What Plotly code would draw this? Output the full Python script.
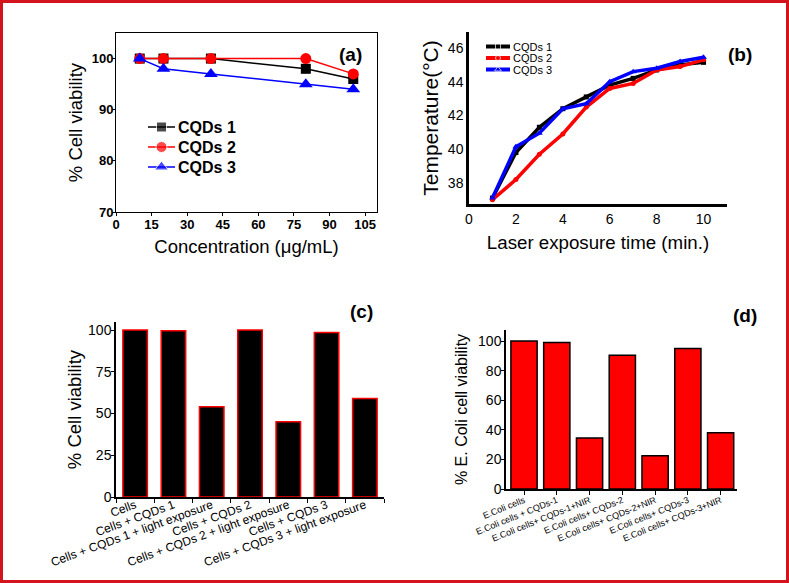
import plotly.graph_objects as go

# ---------------- data ----------------
conc = [10, 20, 40, 80, 100]
via_cqd1 = [100, 100, 100, 98, 96]
via_cqd2 = [100, 100, 100, 100, 97]
via_cqd3 = [100, 98, 97, 95, 94]

time_min = [1, 2, 3, 4, 5, 6, 7, 8, 9, 10]
temp_cqd1 = [37.1, 39.8, 41.3, 42.4, 43.1, 43.8, 44.2, 44.7, 45.0, 45.15]
temp_cqd2 = [37.0, 38.2, 39.7, 40.9, 42.5, 43.6, 43.9, 44.7, 44.9, 45.3]
temp_cqd3 = [37.1, 40.15, 40.95, 42.4, 42.7, 44.0, 44.6, 44.8, 45.2, 45.45]

cells_cats = ["Cells", "Cells + CQDs 1", "Cells + CQDs 1 + light exposure",
              "Cells + CQDs 2", "Cells + CQDs 2 + light exposure",
              "Cells + CQDs 3", "Cells + CQDs 3 + light exposure"]
cells_via = [100, 99.5, 54, 100, 45, 98.5, 59]

ecoli_cats = ["E.Coli cells", "E.Coli cells + CQDs-1", "E.Coli cells+ CQDs-1+NIR",
              "E.Coli cells+ CQDs-2", "E.Coli cells+ CQDs-2+NIR",
              "E.Coli cells+ CQDs-3", "E.Coli cells+ CQDs-3+NIR"]
ecoli_via = [100, 99, 34.5, 90.5, 22.5, 95, 38]

series_names = ["CQDs 1", "CQDs 2", "CQDs 3"]
series_colors = ["black", "#ff0000", "#0000ff"]
series_symbols = ["square", "circle", "triangle-up"]

W, H = 789, 583
FONT = "Liberation Sans, Arial, sans-serif"


def px_x(a, b):
    return [a / W, b / W]


def px_y(top, bottom):
    return [1 - bottom / H, 1 - top / H]


fig = go.Figure()

# ---------- panel (a) ----------
a_sizes = [10, 11, 12]
for name, ys, col, sym, sz in zip(series_names, [via_cqd1, via_cqd2, via_cqd3],
                                  series_colors, series_symbols, a_sizes):
    fig.add_trace(go.Scatter(x=conc, y=ys, name=name, mode="lines+markers",
                             line=dict(color=col, width=1.5),
                             marker=dict(symbol=sym, size=sz, color=col),
                             xaxis="x", yaxis="y", showlegend=False))

# ---------- panel (b) ----------
b_sizes = [5, 5, 6]
for name, ys, col, sym, sz in zip(series_names, [temp_cqd1, temp_cqd2, temp_cqd3],
                                  series_colors, series_symbols, b_sizes):
    fig.add_trace(go.Scatter(x=time_min, y=ys, name=name, mode="lines+markers",
                             line=dict(color=col, width=3.5),
                             marker=dict(symbol=sym, size=sz, color=col),
                             xaxis="x2", yaxis="y2", showlegend=False))

# ---------- panel (c) ----------
fig.add_trace(go.Bar(x=cells_cats, y=cells_via, width=0.64,
                     marker=dict(color="black", line=dict(color="#ff0000", width=1.5)),
                     showlegend=False, xaxis="x3", yaxis="y3"))

# ---------- panel (d) ----------
fig.add_trace(go.Bar(x=ecoli_cats, y=ecoli_via, width=0.8,
                     marker=dict(color="#ff0000", line=dict(color="black", width=1.5)),
                     showlegend=False, xaxis="x4", yaxis="y4"))

# ---------- legend keys (drawn on an invisible full-page pixel axis) ----------
def legend_block(x0, x1, y_rows, sizes, lw, fsize, bold):
    for i, (name, col, sym) in enumerate(zip(series_names, series_colors, series_symbols)):
        y = y_rows[i]
        fig.add_trace(go.Scatter(x=[x0, (x0 + x1) / 2, x1], y=[y, y, y], mode="lines+markers",
                                 line=dict(color=col, width=lw),
                                 marker=dict(symbol=sym, size=[0, sizes[i], 0], color=col),
                                 xaxis="x5", yaxis="y5", showlegend=False, hoverinfo="skip"))
        fig.add_annotation(text=(f"<b>{name}</b>" if bold else name), x=x1 + 1, y=y,
                           xref="x5", yref="y5", showarrow=False, xanchor="left", yanchor="middle",
                           font=dict(family=FONT, size=fsize, color="black"))


legend_block(148, 175, [127, 147, 167], a_sizes, 1.5, 16, True)
legend_block(486, 510, [46.5, 58, 69.5], b_sizes, 4, 11, False)

bold13 = dict(family=FONT, size=13, color="black", weight="bold")
reg14 = dict(family=FONT, size=14, color="black")

fig.update_layout(
    width=W, height=H,
    margin=dict(l=0, r=0, t=0, b=0, autoexpand=False),
    paper_bgcolor="white", plot_bgcolor="rgba(0,0,0,0)",
    font=dict(family=FONT, color="black"),
    showlegend=False,
    # panel a axes
    xaxis=dict(domain=px_x(116, 377), anchor="y", range=[0, 110], tickvals=list(range(0, 106, 15)),
               showline=True, linecolor="black", linewidth=1, mirror=True, automargin=False,
               ticks="outside", ticklen=3, tickcolor="black", showgrid=False, zeroline=False,
               tickfont=bold13, ticklabelstandoff=-3,
               title=dict(text="Concentration (μg/mL)", font=dict(family=FONT, size=18.5), standoff=9)),
    yaxis=dict(domain=px_y(33, 212), anchor="x", range=[70, 105], tickvals=[70, 80, 90, 100],
               showline=True, linecolor="black", linewidth=1, mirror=True, automargin=False,
               ticks="outside", ticklen=3, tickcolor="black", showgrid=False, zeroline=False,
               tickfont=bold13, ticklabelstandoff=-4,
               title=dict(text="% Cell viability", font=dict(family=FONT, size=18.5), standoff=4)),
    # panel b axes
    xaxis2=dict(domain=px_x(469, 727), anchor="y2", range=[0, 11], tickvals=list(range(0, 11, 2)),
                showline=True, linecolor="black", linewidth=2.5, automargin=False,
                ticks="", showgrid=False, zeroline=False, tickfont=reg14,
                title=dict(text="Laser exposure time (min.)", font=dict(family=FONT, size=18.7), standoff=11)),
    yaxis2=dict(domain=px_y(32, 204), anchor="x2", range=[36.75, 46.95], tickvals=[38, 40, 42, 44, 46],
                showline=True, linecolor="black", linewidth=2.5, automargin=False,
                ticks="", showgrid=False, zeroline=False, tickfont=reg14,
                title=dict(text="Temperature(°C)", font=dict(family=FONT, size=21), standoff=4)),
    # panel c axes
    xaxis3=dict(domain=px_x(116, 384), anchor="y3", range=[-0.5, 6.5], type="category",
                showline=True, linecolor="black", linewidth=1.5, automargin=False,
                ticks="outside", ticklen=4, tickcolor="black", tickson="boundaries",
                showgrid=False, zeroline=False, tickangle=-20, ticklabelstandoff=-5,
                tickfont=dict(family=FONT, size=12, color="black")),
    yaxis3=dict(domain=px_y(322, 497), anchor="x3", range=[0, 104.8], tickvals=[0, 25, 50, 75, 100],
                showline=True, linecolor="black", linewidth=1.5, automargin=False,
                ticks="outside", ticklen=3, tickcolor="black", showgrid=False, zeroline=False,
                tickfont=reg14, ticklabelstandoff=-3,
                title=dict(text="% Cell viability", font=dict(family=FONT, size=18.5), standoff=2)),
    # panel d axes
    xaxis4=dict(domain=px_x(506, 737), anchor="y4", range=[-0.55, 6.5], type="category",
                showline=True, linecolor="black", linewidth=1.5, automargin=False,
                ticks="outside", ticklen=4, tickcolor="black",
                showgrid=False, zeroline=False, tickangle=-22, ticklabelstandoff=-3,
                tickfont=dict(family=FONT, size=9, color="black")),
    yaxis4=dict(domain=px_y(330, 489), anchor="x4", range=[0, 107.5], tickvals=[0, 20, 40, 60, 80, 100],
                showline=True, linecolor="black", linewidth=1.5, automargin=False,
                ticks="outside", ticklen=3, tickcolor="black", showgrid=False, zeroline=False,
                tickfont=reg14, ticklabelstandoff=-3,
                title=dict(text="% E. Coli cell viability", font=dict(family=FONT, size=16), standoff=6)),
    # invisible full-page pixel axis for legend keys
    xaxis5=dict(domain=[0, 1], anchor="y5", range=[0, W], visible=False, fixedrange=True),
    yaxis5=dict(domain=[0, 1], anchor="x5", range=[H, 0], visible=False, fixedrange=True),
    bargap=0.2,
)

labels = [("(a)", 350, 55), ("(b)", 740, 55), ("(c)", 361, 311), ("(d)", 745, 315)]
for txt, cx, cy in labels:
    fig.add_annotation(text=f"<b>{txt}</b>", x=cx / W, y=1 - cy / H, xref="paper", yref="paper",
                       showarrow=False, xanchor="center", yanchor="middle",
                       font=dict(family=FONT, size=19, color="black"))

# outer red frame
fig.add_shape(type="rect", xref="paper", yref="paper",
              x0=1.5 / W, x1=1 - 1.5 / W, y0=1.5 / H, y1=1 - 1.5 / H,
              line=dict(color="#d4141c", width=3), fillcolor="rgba(0,0,0,0)", layer="above")

fig.write_html("out.html", config={"displayModeBar": False},
               post_script="document.body.style.margin='0px';")
